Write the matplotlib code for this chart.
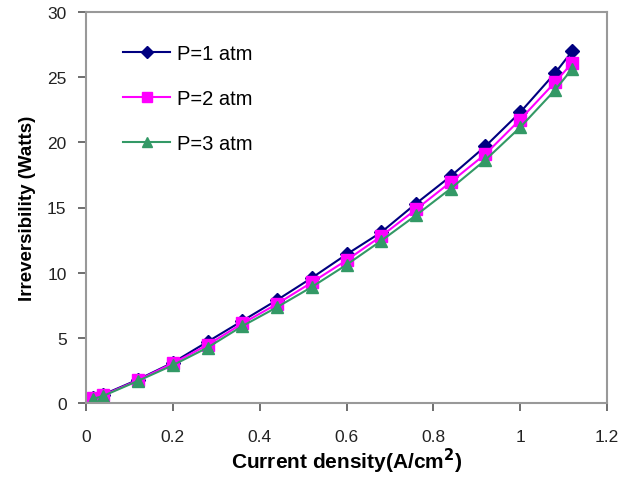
import matplotlib
matplotlib.use("Agg")
import matplotlib.pyplot as plt

plt.rcParams['font.family'] = ['Liberation Sans', 'DejaVu Sans']

current_density = [0.015, 0.04, 0.12, 0.2, 0.28, 0.36, 0.44, 0.52, 0.6, 0.68, 0.76, 0.84, 0.92, 1.0, 1.08, 1.12]
irr_p1 = [0.35, 0.65, 1.8, 3.1, 4.7, 6.3, 7.9, 9.6, 11.4, 13.1, 15.3, 17.4, 19.7, 22.3, 25.3, 27.0]
irr_p2 = [0.35, 0.6, 1.75, 3.05, 4.45, 6.1, 7.6, 9.25, 10.95, 12.8, 14.85, 16.95, 19.1, 21.75, 24.6, 26.1]
irr_p3 = [0.3, 0.55, 1.7, 2.9, 4.25, 5.9, 7.35, 8.9, 10.6, 12.45, 14.4, 16.45, 18.65, 21.15, 24.0, 25.65]
labels = ["P=1 atm", "P=2 atm", "P=3 atm"]

fig = plt.figure(figsize=(6.32, 4.81), dpi=100)
ax = fig.add_axes([86/632, 1 - 404/481, (607-86)/632, (404-13)/481])

ax.plot(current_density, irr_p1, color='#000080', marker='D', markersize=7, lw=1.5, label=labels[0])
ax.plot(current_density, irr_p2, color='#FF00FF', marker='s', markersize=8, lw=1.5, label=labels[1])
ax.plot(current_density, irr_p3, color='#339966', marker='^', markersize=8, lw=1.5, label=labels[2])

ax.set_xlim(0, 1.2)
ax.set_ylim(0, 30)
ax.set_xticks([0, 0.2, 0.4, 0.6, 0.8, 1, 1.2])
ax.set_xticklabels(["0", "0.2", "0.4", "0.6", "0.8", "1", "1.2"])
ax.set_yticks([0, 5, 10, 15, 20, 25, 30])

for s in ax.spines.values():
    s.set_color('#999999')
    s.set_linewidth(1.5)
ax.tick_params(axis='both', colors='#555555', labelcolor='#222222', labelsize=12.5,
               direction='out', length=6, width=1.2)
ax.tick_params(axis='x', pad=13)
ax.tick_params(axis='y', pad=8)

ax.set_xlabel("Current density(A/cm$^{\\mathbf{2}}$)", fontsize=15, fontweight='bold', labelpad=1)
ax.set_ylabel("Irreversibility (Watts)", fontsize=13.5, fontweight='bold', labelpad=8)

leg = ax.legend(loc='upper left', bbox_to_anchor=(0.071, 0.918), frameon=False, fontsize=14.5,
                labelspacing=1.3, handlelength=2.35, handletextpad=0.35,
                borderpad=0, borderaxespad=0, markerscale=0.85)

fig.savefig("out.png", dpi=100)
